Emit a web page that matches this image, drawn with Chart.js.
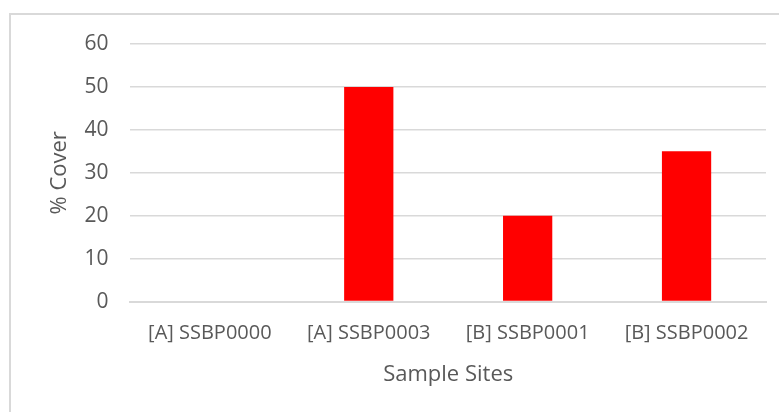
<!DOCTYPE html>
<html>
<head>
<meta charset="utf-8">
<script src="https://cdn.jsdelivr.net/npm/chart.js@4"></script>
<style>
  html, body { margin: 0; padding: 0; background: #fff; overflow: hidden; }
  #wrap { position: relative; width: 779px; height: 412px; }
  #frame {
    position: absolute; left: 9px; top: 13px; width: 800px; height: 420px;
    border: 2px solid #d9d9d9; box-sizing: border-box;
  }
  canvas { position: absolute; left: 0; top: 0; }
</style>
</head>
<body>
<div id="wrap">
  <div id="frame"></div>
  <canvas id="coverChart" width="779" height="412"></canvas>
</div>
<script>
const sites = ["[A] SSBP0000", "[A] SSBP0003", "[B] SSBP0001", "[B] SSBP0002"];
const cover = [0, 50, 20, 35];
const yTicks = [0, 10, 20, 30, 40, 50, 60];

const font = "'Open Sans', sans-serif";
const grey = "#595959";

const chart = new Chart("coverChart", {
  type: "bar",
  data: {
    labels: sites,
    datasets: [
      {
        label: "% Cover",
        data: cover,
        backgroundColor: "#ff0000",
        borderWidth: 0,
        barPercentage: 0.31,
        categoryPercentage: 1,
      },
    ],
  },
  options: {
    responsive: false,
    animation: false,
    layout: { padding: { left: 47, right: 13, top: 44, bottom: 20 } },
    plugins: {
      legend: { display: false },
      tooltip: { enabled: false },
    },
    scales: {
      x: {
        grid: { display: false },
        border: { color: "#d9d9d9", width: 2 },
        ticks: { color: grey, font: { family: font, size: 20 }, padding: 12, maxRotation: 0 },
        title: {
          display: true,
          text: "Sample Sites",
          color: grey,
          font: { family: font, size: 22 },
          padding: { top: 4 },
        },
      },
      y: {
        min: yTicks[0],
        max: yTicks[yTicks.length - 1],
        afterBuildTicks: (axis) => {
          axis.ticks = yTicks.map((v) => ({ value: v }));
        },
        grid: {
          color: "#d9d9d9",
          lineWidth: 1.5,
          drawTicks: true,
          tickLength: 11,
          tickColor: "rgba(0,0,0,0)",
        },
        border: { display: false },
        ticks: { color: grey, font: { family: font, size: 21 }, padding: 11 },
        title: {
          display: true,
          text: "% Cover",
          color: grey,
          font: { family: font, size: 22 },
          padding: { top: 0, bottom: 0 },
        },
      },
    },
  },
});
</script>
</body>
</html>
